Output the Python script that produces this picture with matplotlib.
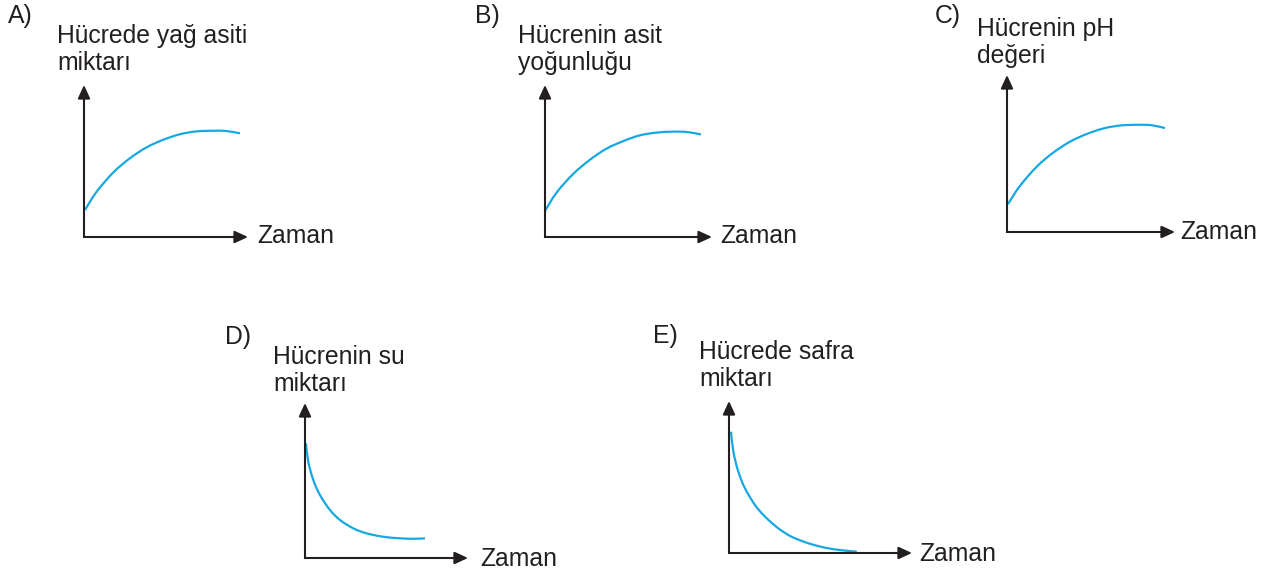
import matplotlib
matplotlib.use("Agg")
import matplotlib.pyplot as plt
import numpy as np
from matplotlib.path import Path
from matplotlib.patches import PathPatch

plt.rcParams['font.family'] = ['Liberation Sans', 'DejaVu Sans']

# option letters and axis titles
letters = ["A)", "B)", "C)", "D)", "E)"]
titles = [
    ["Hücrede yağ asiti", "miktarı"],
    ["Hücrenin asit", "yoğunluğu"],
    ["Hücrenin pH", "değeri"],
    ["Hücrenin su", "miktarı"],
    ["Hücrede safra", "miktarı"],
]
x_label = "Zaman"

# curves (percent of axis length)
time_a = [0.6, 7.7, 17.9, 28.0, 38.2, 48.4, 58.5, 68.7, 78.9, 87.0, 95.1]
value_a = [17.8, 29.8, 42.5, 51.8, 59.0, 64.0, 67.6, 69.5, 69.9, 69.7, 68.2]

time_b = [0.0, 7.0, 16.9, 26.9, 36.8, 46.9, 56.9, 66.9, 76.8, 84.8, 93.4]
value_b = [17.2, 29.3, 41.5, 50.8, 58.1, 63.1, 66.9, 68.7, 69.3, 69.1, 67.5]

time_c = [0.6, 7.6, 17.7, 27.7, 37.8, 47.9, 57.9, 68.0, 78.5, 86.2, 94.0]
value_c = [17.8, 29.2, 41.6, 50.7, 57.7, 62.6, 66.1, 67.9, 68.3, 68.0, 66.2]

time_d = [0.6, 2.0, 5.1, 9.2, 15.3, 21.5, 29.7, 37.8, 48.0, 58.3, 66.5, 73.6]
value_d = [74.0, 62.1, 50.3, 40.6, 31.0, 24.5, 19.1, 15.9, 13.7, 12.7, 12.4, 12.7]

time_e = [1.1, 2.4, 5.1, 8.7, 14.2, 19.7, 27.0, 34.2, 43.4, 52.5, 61.6, 69.8]
value_e = [79.8, 66.6, 53.5, 42.6, 31.6, 23.9, 16.2, 10.7, 6.4, 3.5, 1.8, 0.9]

curves = [(time_a, value_a), (time_b, value_b), (time_c, value_c),
          (time_d, value_d), (time_e, value_e)]

# layout in pixels: origin x, origin y, x arrow tip, y arrow tip
axes_px = [
    (84, 237, 248, 85),
    (545, 237, 712, 85),
    (1007, 232, 1175, 75),
    (305, 558, 468, 403),
    (729, 553, 912, 401),
]
# letter (x, baseline), title (x, baseline 1st line), zaman (x, baseline)
text_px = [
    ((8, 23), (57, 43), (257, 243)),
    ((475, 23), (518, 43), (720, 243)),
    ((935, 23), (977, 36), (1180, 239)),
    ((225, 344), (273, 364), (480, 566)),
    ((653, 343), (699, 359), (919, 561)),
]
LINE_GAP = 27

W, H = 1270, 576
INK = '#231f20'
BLUE = '#16a8e2'
FS = 17.8

fig = plt.figure(figsize=(W / 100, H / 100), dpi=100)


def fx(px):
    return px / W


def fy(py):
    return 1 - py / H


def smooth_path(t, v):
    # smooth line through the read points (catmull-rom as bezier)
    p = np.column_stack([t, v])
    ext = np.vstack([p[0], p, p[-1]])
    verts = [p[0]]
    codes = [Path.MOVETO]
    for k in range(len(p) - 1):
        a, b, c, d = ext[k], ext[k + 1], ext[k + 2], ext[k + 3]
        verts += [b + (c - a) / 6, c - (d - b) / 6, c]
        codes += [Path.CURVE4] * 3
    return Path(verts, codes)


for i in range(5):
    ox, oy, tx, ty = axes_px[i]
    ax = fig.add_axes([fx(ox), fy(oy), (tx - ox) / W, (oy - ty) / H])
    ax.set_xlim(0, 100)
    ax.set_ylim(0, 100)
    ax.axis('off')

    t, v = curves[i]
    ax.add_patch(PathPatch(smooth_path(t, v), fill=False, edgecolor=BLUE,
                           lw=1.6, clip_on=False, capstyle='butt'))

    ax.plot([0, 0, 95], [95, 0, 0], color=INK, lw=1.5, clip_on=False,
            solid_joinstyle='miter', solid_capstyle='butt')
    arrow = dict(arrowstyle='-|>,head_length=0.5,head_width=0.23', lw=1.5,
                 color=INK, mutation_scale=16, shrinkA=0, shrinkB=0)
    ax.annotate('', xy=(100, 0), xytext=(90, 0), arrowprops=arrow,
                annotation_clip=False)
    ax.annotate('', xy=(0, 100), xytext=(0, 90), arrowprops=arrow,
                annotation_clip=False)

    (lx, ly), (hx, hy), (zx, zy) = text_px[i]
    fig.text(fx(lx), fy(ly), letters[i], fontsize=FS, color=INK, va='baseline')
    fig.text(fx(hx), fy(hy), titles[i][0], fontsize=FS, color=INK, va='baseline')
    fig.text(fx(hx), fy(hy + LINE_GAP), titles[i][1], fontsize=FS, color=INK,
             va='baseline')
    fig.text(fx(zx), fy(zy), x_label, fontsize=FS, color=INK, va='baseline')

fig.savefig('out.png', dpi=100)
